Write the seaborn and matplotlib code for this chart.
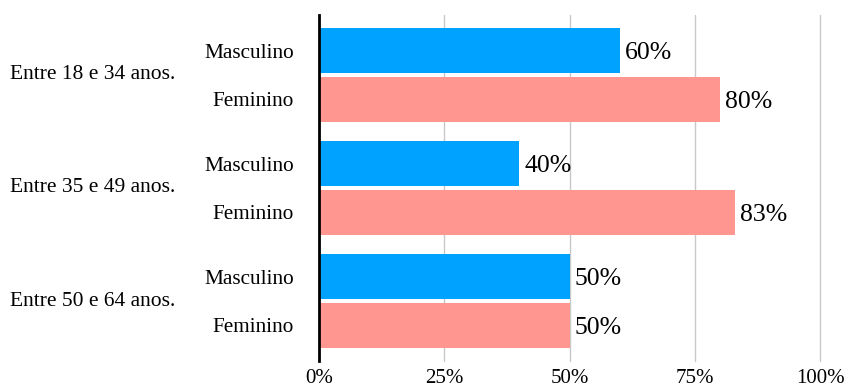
import matplotlib
matplotlib.use("Agg")
import matplotlib.pyplot as plt
import matplotlib.transforms as mtransforms
import seaborn as sns
import pandas as pd

grupos = ["Entre 18 e 34 anos.", "Entre 35 e 49 anos.", "Entre 50 e 64 anos."]
sexos = ["Masculino", "Feminino"]
masculino = [60, 40, 50]
feminino = [80, 83, 50]
xticks = [0, 25, 50, 75, 100]
xtick_labels = ["0%", "25%", "50%", "75%", "100%"]

rows = []
for g, m, f in zip(grupos, masculino, feminino):
    rows.append({"grupo": g, "sexo": "Masculino", "valor": m})
    rows.append({"grupo": g, "sexo": "Feminino", "valor": f})
df = pd.DataFrame(rows)

sns.set_theme(style="white")
plt.rcParams["font.family"] = ["Liberation Serif", "DejaVu Serif"]

fig = plt.figure(figsize=(8.48, 3.88), dpi=100)
ax = fig.add_axes([319 / 848, 1 - 361 / 388, (820 - 319) / 848, (361 - 15) / 388])

sns.barplot(data=df, y="grupo", x="valor", hue="sexo", order=grupos, hue_order=sexos,
            orient="h", palette=["#00A2FF", "#FF968F"], saturation=1, width=0.863, gap=0.082,
            linewidth=0, legend=False, ax=ax, zorder=2)

ax.set_xlim(0, 100)
ax.set_ylim(2.53, -0.53)
ax.set_xticks(xticks)
ax.set_xticklabels(xtick_labels, fontsize=15, color="black")
ax.tick_params(axis="x", length=0, pad=6)
ax.grid(axis="x", color="#c8c8c8", linewidth=1, zorder=0)
ax.grid(axis="y", visible=False)
for gl in ax.get_xgridlines():
    gl.set_clip_on(False)
ax.set_axisbelow(True)
for s in ["top", "right", "bottom"]:
    ax.spines[s].set_visible(False)
ax.spines["left"].set_color("black")
ax.spines["left"].set_linewidth(2)
ax.spines["left"].set_zorder(3)
ax.set_xlabel("")
ax.set_ylabel("")

# sub labels and values from bar positions
centers = []
for p in ax.patches:
    h = p.get_height()
    if h == 0:
        continue
    cy = p.get_y() + h / 2
    w = p.get_width()
    centers.append(cy)
    ax.text(w + 1, cy + 0.02, f"{w:.0f}%", va="center", ha="left", fontsize=18.5, color="black")
order_centers = sorted(centers)
sub_labels = []
for c in order_centers:
    idx = int(round(c))
    sub_labels.append("Masculino" if c < idx else "Feminino")
ax.set_yticks(order_centers)
ax.set_yticklabels(sub_labels, fontsize=15.3, color="black")
ax.tick_params(axis="y", length=0, pad=18)

trans = mtransforms.blended_transform_factory(fig.transFigure, ax.transData)
for i, g in enumerate(grupos):
    ax.text(10 / 848, i, g, transform=trans, ha="left", va="center", fontsize=15.5, color="black")

fig.savefig("out.png", dpi=100)
